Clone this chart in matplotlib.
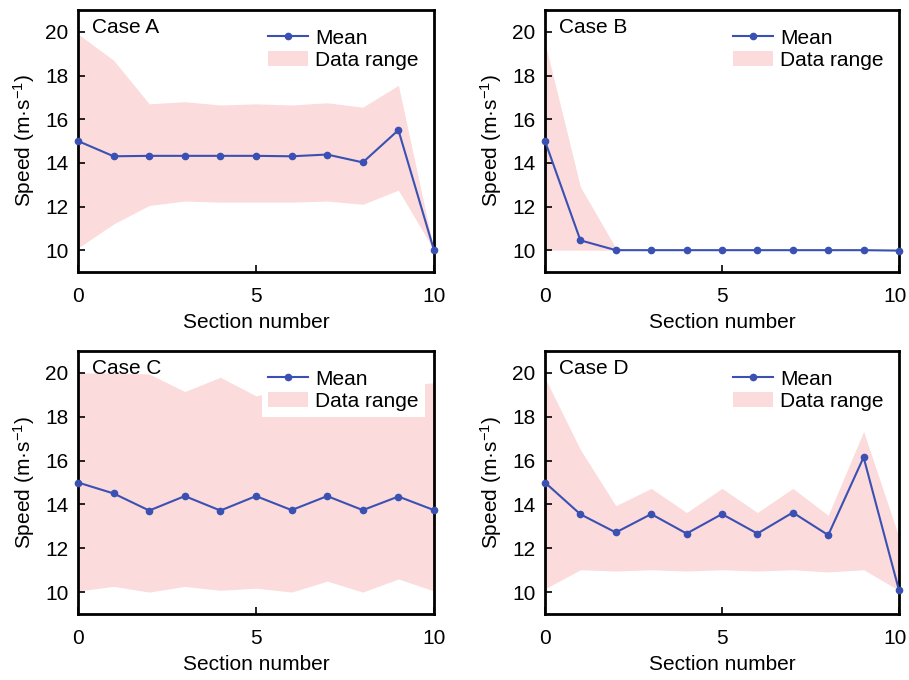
import matplotlib
matplotlib.use("Agg")
import matplotlib.pyplot as plt
import matplotlib.transforms as mtransforms
import numpy as np

plt.rcParams['font.family'] = ['Liberation Sans', 'DejaVu Sans']
plt.rcParams['mathtext.default'] = 'regular'

sections = list(range(11))

case_names = ["Case A", "Case B", "Case C", "Case D"]

mean_a = [15.0, 14.3, 14.32, 14.32, 14.32, 14.32, 14.3, 14.38, 14.02, 15.5, 10.0]
upper_a = [19.9, 18.7, 16.7, 16.8, 16.65, 16.7, 16.65, 16.75, 16.55, 17.55, 10.0]
lower_a = [10.1, 11.2, 12.05, 12.25, 12.2, 12.2, 12.2, 12.25, 12.1, 12.75, 10.0]

mean_b = [15.0, 10.45, 10.0, 10.0, 10.0, 10.0, 10.0, 10.0, 10.0, 10.0, 9.98]
upper_b = [19.5, 12.9, 10.1, 10.0, 10.0, 10.0, 10.0, 10.0, 10.0, 10.0, 10.0]
lower_b = [10.0, 10.0, 10.0, 10.0, 10.0, 10.0, 10.0, 10.0, 10.0, 10.0, 10.0]

mean_c = [15.0, 14.5, 13.72, 14.38, 13.72, 14.38, 13.74, 14.38, 13.74, 14.36, 13.74]
upper_c = [20.0, 20.0, 19.95, 19.15, 19.8, 18.95, 19.3, 19.6, 19.1, 19.4, 19.55]
lower_c = [10.05, 10.26, 10.0, 10.26, 10.08, 10.18, 10.0, 10.5, 10.0, 10.6, 10.05]

mean_d = [15.0, 13.55, 12.72, 13.56, 12.67, 13.56, 12.67, 13.63, 12.6, 16.15, 10.08]
upper_d = [19.77, 16.5, 13.94, 14.73, 13.63, 14.73, 13.63, 14.73, 13.5, 17.33, 12.5]
lower_d = [10.15, 11.02, 10.96, 11.02, 10.96, 11.02, 10.96, 11.02, 10.92, 11.02, 10.08]

means = [mean_a, mean_b, mean_c, mean_d]
uppers = [upper_a, upper_b, upper_c, upper_d]
lowers = [lower_a, lower_b, lower_c, lower_d]

line_color = '#3a51b3'
fill_color = '#fbdbdb'
FS = 15

fig = plt.figure(figsize=(9.09, 6.80), dpi=100)
W, H = 909, 680
boxes = [(78, 10, 434, 272), (545, 10, 899, 272), (78, 351, 434, 614), (545, 351, 899, 614)]

for i, (x0, y0, x1, y1) in enumerate(boxes):
    ax = fig.add_axes([x0 / W, 1 - y1 / H, (x1 - x0) / W, (y1 - y0) / H])
    ax.fill_between(sections, lowers[i], uppers[i], color=fill_color, linewidth=0, label='Data range')
    ax.plot(sections, means[i], color=line_color, lw=1.5, marker='o', ms=4.5, label='Mean',
            clip_on=False, zorder=5)
    ax.set_xlim(0, 10)
    ax.set_ylim(9, 21)
    ax.set_xticks([0, 5, 10])
    ax.set_yticks([10, 12, 14, 16, 18, 20])
    ax.tick_params(direction='in', length=5, width=1.2, labelsize=FS, pad=11,
                   top=False, right=False)
    ax.tick_params(axis='y', pad=7)
    for sp in ax.spines.values():
        sp.set_linewidth(2)
    ax.set_xlabel('Section number', fontsize=FS, labelpad=5)
    ax.set_ylabel('Speed (m·s$^{-1}$)', fontsize=FS, labelpad=6)
    ax.text(0.04, 0.968, case_names[i], transform=ax.transAxes, fontsize=FS,
            ha='left', va='top')
    if i in (1, 3):
        lbl = ax.get_xticklabels()[-1]
        lbl.set_transform(lbl.get_transform() + mtransforms.ScaledTranslation(-4 / 100, 0, fig.dpi_scale_trans))
    handles, labels = ax.get_legend_handles_labels()
    ax.legend(handles[::-1], labels[::-1], loc='upper right', bbox_to_anchor=(0.989, 0.973),
              fontsize=FS, frameon=True, fancybox=False, framealpha=1, facecolor='white',
              edgecolor='none', borderaxespad=0.25, handlelength=1.9,
              handletextpad=0.35, labelspacing=0.15, borderpad=0.3)

fig.savefig('out.png', dpi=100)
